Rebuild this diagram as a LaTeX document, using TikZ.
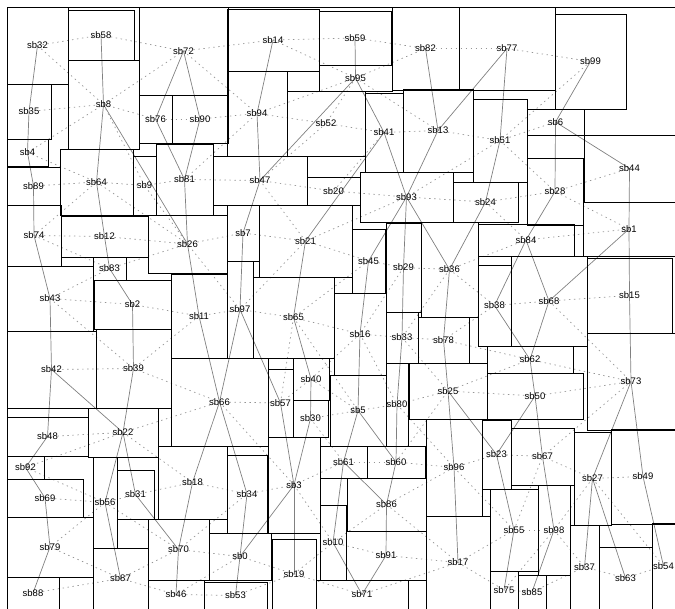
\documentclass[tikz,border=0pt]{standalone}
\usepackage{fontspec}
\setmainfont{Liberation Sans}
\pgfdeclarelayer{background}
\pgfsetlayers{background,main}
\definecolor{linkgray}{HTML}{808080}
\definecolor{adjgray}{HTML}{959595}

\begin{document}
\begin{tikzpicture}[
  x=1pt, y=-1pt,
  blk/.style ={draw=black, line width=0.8pt},
  lbl/.style ={font=\fontsize{9.5}{10}\selectfont, inner sep=0pt},
  link/.style={draw=linkgray, line width=0.7pt},
  adj/.style ={draw=adjgray, line width=0.7pt, dash pattern=on 1.4pt off 3.6pt},
]
  \useasboundingbox (0,0) rectangle (675,609);
  \draw[blk] (7,7) rectangle (675,609);

  % top band
  \draw[blk] (7,7)     rectangle node[lbl] (sb32) {sb32} (68,84);
  \draw[blk] (68,10)   rectangle node[lbl] (sb58) {sb58} (134,60);
  \draw[blk] (139,7)   rectangle node[lbl] (sb72) {sb72} (228,95);
  \draw[blk] (227,9)   rectangle node[lbl] (sb14) {sb14} (319,71);
  \draw[blk] (319,11)  rectangle node[lbl] (sb59) {sb59} (391,65);
  \draw[blk] (319,65)  rectangle node[lbl] (sb95) {sb95} (392,91);
  \draw[blk] (392,7)   rectangle node[lbl] (sb82) {sb82} (459,90);
  \draw[blk] (459,7)   rectangle node[lbl] (sb77) {sb77} (555,90);
  \draw[blk] (555,14)  rectangle node[lbl] (sb99) {sb99} (626,109);
  \draw[blk] (68,60)   rectangle node[lbl] (sb8)  {sb8}  (139,149);
  \draw[blk] (7,84)    rectangle node[lbl] (sb35) {sb35} (51,139);
  \draw[blk] (7,139)   rectangle node[lbl] (sb4)  {sb4}  (48,166);
  \draw[blk] (139,95)  rectangle node[lbl] (sb76) {sb76} (172,143);
  \draw[blk] (172,95)  rectangle node[lbl] (sb90) {sb90} (228,143);
  \draw[blk] (227,71)  rectangle node[lbl] (sb94) {sb94} (287,156);
  \draw[blk] (287,91)  rectangle node[lbl] (sb52) {sb52} (365,156);
  \draw[blk] (365,93)  rectangle node[lbl] (sb41) {sb41} (403,172);
  \draw[blk] (403,89)  rectangle node[lbl] (sb13) {sb13} (473,172);
  \draw[blk] (473,99)  rectangle node[lbl] (sb51) {sb51} (527,182);
  \draw[blk] (527,109) rectangle node[lbl] (sb6)  {sb6}  (584,135);
  \draw[blk] (584,135) rectangle node[lbl] (sb44) {sb44} (675,202);
  \draw[blk] (7,167)   rectangle node[lbl] (sb89) {sb89} (60,205);
  \draw[blk] (60,149)  rectangle node[lbl] (sb64) {sb64} (133,215);
  \draw[blk] (133,156) rectangle node[lbl] (sb9)  {sb9}  (156,215);
  \draw[blk] (156,144) rectangle node[lbl] (sb81) {sb81} (213,215);
  \draw[blk] (213,156) rectangle node[lbl] (sb47) {sb47} (307,205);
  \draw[blk] (307,177) rectangle node[lbl] (sb20) {sb20} (360,205);
  \draw[blk] (360,172) rectangle node[lbl] (sb93) {sb93} (453,222);
  \draw[blk] (453,182) rectangle node[lbl] (sb24) {sb24} (518,222);
  \draw[blk] (527,158) rectangle node[lbl] (sb28) {sb28} (583,225);

  % middle band
  \draw[blk] (7,205)   rectangle node[lbl] (sb74) {sb74} (61,266);
  \draw[blk] (61,216)  rectangle node[lbl] (sb12) {sb12} (148,257);
  \draw[blk] (148,215) rectangle node[lbl] (sb26) {sb26} (227,273);
  \draw[blk] (227,205) rectangle node[lbl] (sb7)  {sb7}  (259,261);
  \draw[blk] (259,205) rectangle node[lbl] (sb21) {sb21} (352,277);
  \draw[blk] (352,229) rectangle node[lbl] (sb45) {sb45} (385,293);
  \draw[blk] (386,223) rectangle node[lbl] (sb29) {sb29} (421,312);
  \draw[blk] (421,222) rectangle node[lbl] (sb36) {sb36} (478,317);
  \draw[blk] (478,224) rectangle node[lbl] (sb84) {sb84} (574,256);
  \draw[blk] (583,202) rectangle node[lbl] (sb1)  {sb1}  (675,256);
  \draw[blk] (93,257)  rectangle node[lbl] (sb83) {sb83} (126,280);
  \draw[blk] (7,266)   rectangle node[lbl] (sb43) {sb43} (93,331);
  \draw[blk] (94,280)  rectangle node[lbl] (sb2)  {sb2}  (171,329);
  \draw[blk] (171,274) rectangle node[lbl] (sb11) {sb11} (227,358);
  \draw[blk] (227,261) rectangle node[lbl] (sb97) {sb97} (253,358);
  \draw[blk] (253,277) rectangle node[lbl] (sb65) {sb65} (334,358);
  \draw[blk] (334,293) rectangle node[lbl] (sb16) {sb16} (386,375);
  \draw[blk] (386,312) rectangle node[lbl] (sb33) {sb33} (418,363);
  \draw[blk] (418,317) rectangle node[lbl] (sb78) {sb78} (469,363);
  \draw[blk] (478,265) rectangle node[lbl] (sb38) {sb38} (511,346);
  \draw[blk] (511,256) rectangle node[lbl] (sb68) {sb68} (587,346);
  \draw[blk] (587,258) rectangle node[lbl] (sb15) {sb15} (672,333);
  \draw[blk] (7,331)   rectangle node[lbl] (sb42) {sb42} (96,408);
  \draw[blk] (96,329)  rectangle node[lbl] (sb39) {sb39} (171,408);
  \draw[blk] (171,358) rectangle node[lbl] (sb66) {sb66} (268,446);
  \draw[blk] (293,358) rectangle node[lbl] (sb40) {sb40} (329,400);
  \draw[blk] (268,369) rectangle node[lbl] (sb57) {sb57} (293,437);
  \draw[blk] (293,400) rectangle node[lbl] (sb30) {sb30} (328,437);
  \draw[blk] (330,375) rectangle node[lbl] (sb5)  {sb5}  (386,446);
  \draw[blk] (386,363) rectangle node[lbl] (sb80) {sb80} (408,446);
  \draw[blk] (409,363) rectangle node[lbl] (sb25) {sb25} (487,419);
  \draw[blk] (487,346) rectangle node[lbl] (sb62) {sb62} (573,373);
  \draw[blk] (487,373) rectangle node[lbl] (sb50) {sb50} (583,419);
  \draw[blk] (587,333) rectangle node[lbl] (sb73) {sb73} (675,430);

  % bottom band
  \draw[blk] (7,417)   rectangle node[lbl] (sb48) {sb48} (88,456);
  \draw[blk] (88,408)  rectangle node[lbl] (sb22) {sb22} (158,457);
  \draw[blk] (7,456)   rectangle node[lbl] (sb92) {sb92} (44,479);
  \draw[blk] (158,446) rectangle node[lbl] (sb18) {sb18} (227,519);
  \draw[blk] (227,455) rectangle node[lbl] (sb34) {sb34} (267,533);
  \draw[blk] (268,437) rectangle node[lbl] (sb3)  {sb3}  (320,533);
  \draw[blk] (320,446) rectangle node[lbl] (sb61) {sb61} (367,478);
  \draw[blk] (367,446) rectangle node[lbl] (sb60) {sb60} (425,478);
  \draw[blk] (426,419) rectangle node[lbl] (sb96) {sb96} (482,516);
  \draw[blk] (482,420) rectangle node[lbl] (sb23) {sb23} (511,489);
  \draw[blk] (511,428) rectangle node[lbl] (sb67) {sb67} (574,485);
  \draw[blk] (574,432) rectangle node[lbl] (sb27) {sb27} (611,525);
  \draw[blk] (611,429) rectangle node[lbl] (sb49) {sb49} (675,524);
  \draw[blk] (7,479)   rectangle node[lbl] (sb69) {sb69} (83,517);
  \draw[blk] (93,457)  rectangle node[lbl] (sb56) {sb56} (117,548);
  \draw[blk] (117,470) rectangle node[lbl] (sb31) {sb31} (154,519);
  \draw[blk] (347,478) rectangle node[lbl] (sb86) {sb86} (426,531);
  \draw[blk] (320,505) rectangle node[lbl] (sb10) {sb10} (346,580);
  \draw[blk] (346,531) rectangle node[lbl] (sb91) {sb91} (426,580);
  \draw[blk] (426,516) rectangle node[lbl] (sb17) {sb17} (490,609);
  \draw[blk] (490,489) rectangle node[lbl] (sb55) {sb55} (538,571);
  \draw[blk] (538,485) rectangle node[lbl] (sb98) {sb98} (570,575);
  \draw[blk] (570,525) rectangle node[lbl] (sb37) {sb37} (599,609);
  \draw[blk] (599,547) rectangle node[lbl] (sb63) {sb63} (652,609);
  \draw[blk] (652,523) rectangle node[lbl] (sb54) {sb54} (675,609);
  \draw[blk] (7,517)   rectangle node[lbl] (sb79) {sb79} (93,577);
  \draw[blk] (93,548)  rectangle node[lbl] (sb87) {sb87} (148,609);
  \draw[blk] (148,519) rectangle node[lbl] (sb70) {sb70} (209,580);
  \draw[blk] (209,533) rectangle node[lbl] (sb0)  {sb0}  (271,580);
  \draw[blk] (272,539) rectangle node[lbl] (sb19) {sb19} (316,609);
  \draw[blk] (7,577)   rectangle node[lbl] (sb88) {sb88} (59,609);
  \draw[blk] (148,580) rectangle node[lbl] (sb46) {sb46} (204,609);
  \draw[blk] (204,582) rectangle node[lbl] (sb53) {sb53} (267,609);
  \draw[blk] (316,580) rectangle node[lbl] (sb71) {sb71} (408,609);
  \draw[blk] (490,571) rectangle node[lbl] (sb75) {sb75} (518,609);
  \draw[blk] (518,575) rectangle node[lbl] (sb85) {sb85} (546,609);

  \begin{pgfonlayer}{background}
    % neighbours
    \foreach \a/\b in {32/58,58/72,32/8,35/8,4/8,4/64,89/64,8/72,8/76,8/9,64/9,9/81,
      72/14,72/94,76/90,90/94,81/94,81/47,14/59,59/82,82/77,77/99,14/95,95/82,95/94,
      95/52,95/13,94/52,52/41,41/13,52/47,41/20,13/51,20/93,47/20,99/51,51/6,51/28,
      51/93,44/28,24/28,1/28,1/84,24/93,24/84,84/36,29/36,36/38,36/33,29/16,78/38,
      45/21,45/29,45/65,21/7,21/47,21/93,21/97,26/7,97/65,97/11,97/26,65/16,65/57,
      65/5,16/33,16/40,16/80,33/78,33/25,38/68,68/15,68/73,62/73,50/73,67/73,62/78,
      25/62,25/50,25/80,74/12,74/64,74/83,12/26,26/83,43/83,43/2,43/39,2/11,11/39,
      39/42,39/66,26/9,64/26,66/57,22/66,66/3,57/40,48/22,22/92,92/56,69/56,56/31,
      56/79,31/18,22/18,18/34,79/87,88/87,87/70,87/46,70/0,56/70,70/34,46/53,34/3,
      3/61,3/10,0/19,0/46,19/53,19/10,19/71,10/91,10/86,61/60,30/61,60/96,60/25,
      91/17,86/96,86/17,71/17,5/30,5/80,5/40,80/96,96/23,96/55,23/67,67/27,27/49,
      27/98,27/54,55/98,55/17,98/37,98/75,37/63,37/85,63/54,17/75,75/85,55/67}
      \draw[adj] (sb\a.center) -- (sb\b.center);
    % tree
    \foreach \a/\b in {32/35,35/4,4/89,89/74,74/43,43/42,42/48,48/92,92/69,69/79,
      79/88,42/22,58/8,8/64,64/12,12/83,83/2,2/39,39/22,22/56,56/87,22/31,31/70,
      70/46,8/26,72/76,72/90,76/81,90/81,81/26,26/11,11/66,66/34,34/0,0/53,14/94,
      94/47,47/7,7/97,97/66,66/18,18/70,97/57,57/3,3/0,3/19,59/95,95/47,95/41,
      41/93,41/21,21/65,65/40,40/30,30/3,82/13,13/93,77/13,77/51,51/24,24/36,
      93/36,36/78,78/25,25/96,96/17,25/23,93/45,45/16,16/5,5/61,61/10,61/86,5/60,
      10/71,86/91,91/71,93/29,29/33,33/80,80/60,60/86,99/6,6/28,28/84,6/44,44/1,
      1/15,15/73,1/68,84/38,84/68,38/62,68/62,62/50,50/23,50/67,67/98,98/85,
      23/55,55/75,73/27,73/49,49/54,27/37,27/63}
      \draw[link] (sb\a.center) -- (sb\b.center);
  \end{pgfonlayer}
\end{tikzpicture}
\end{document}
